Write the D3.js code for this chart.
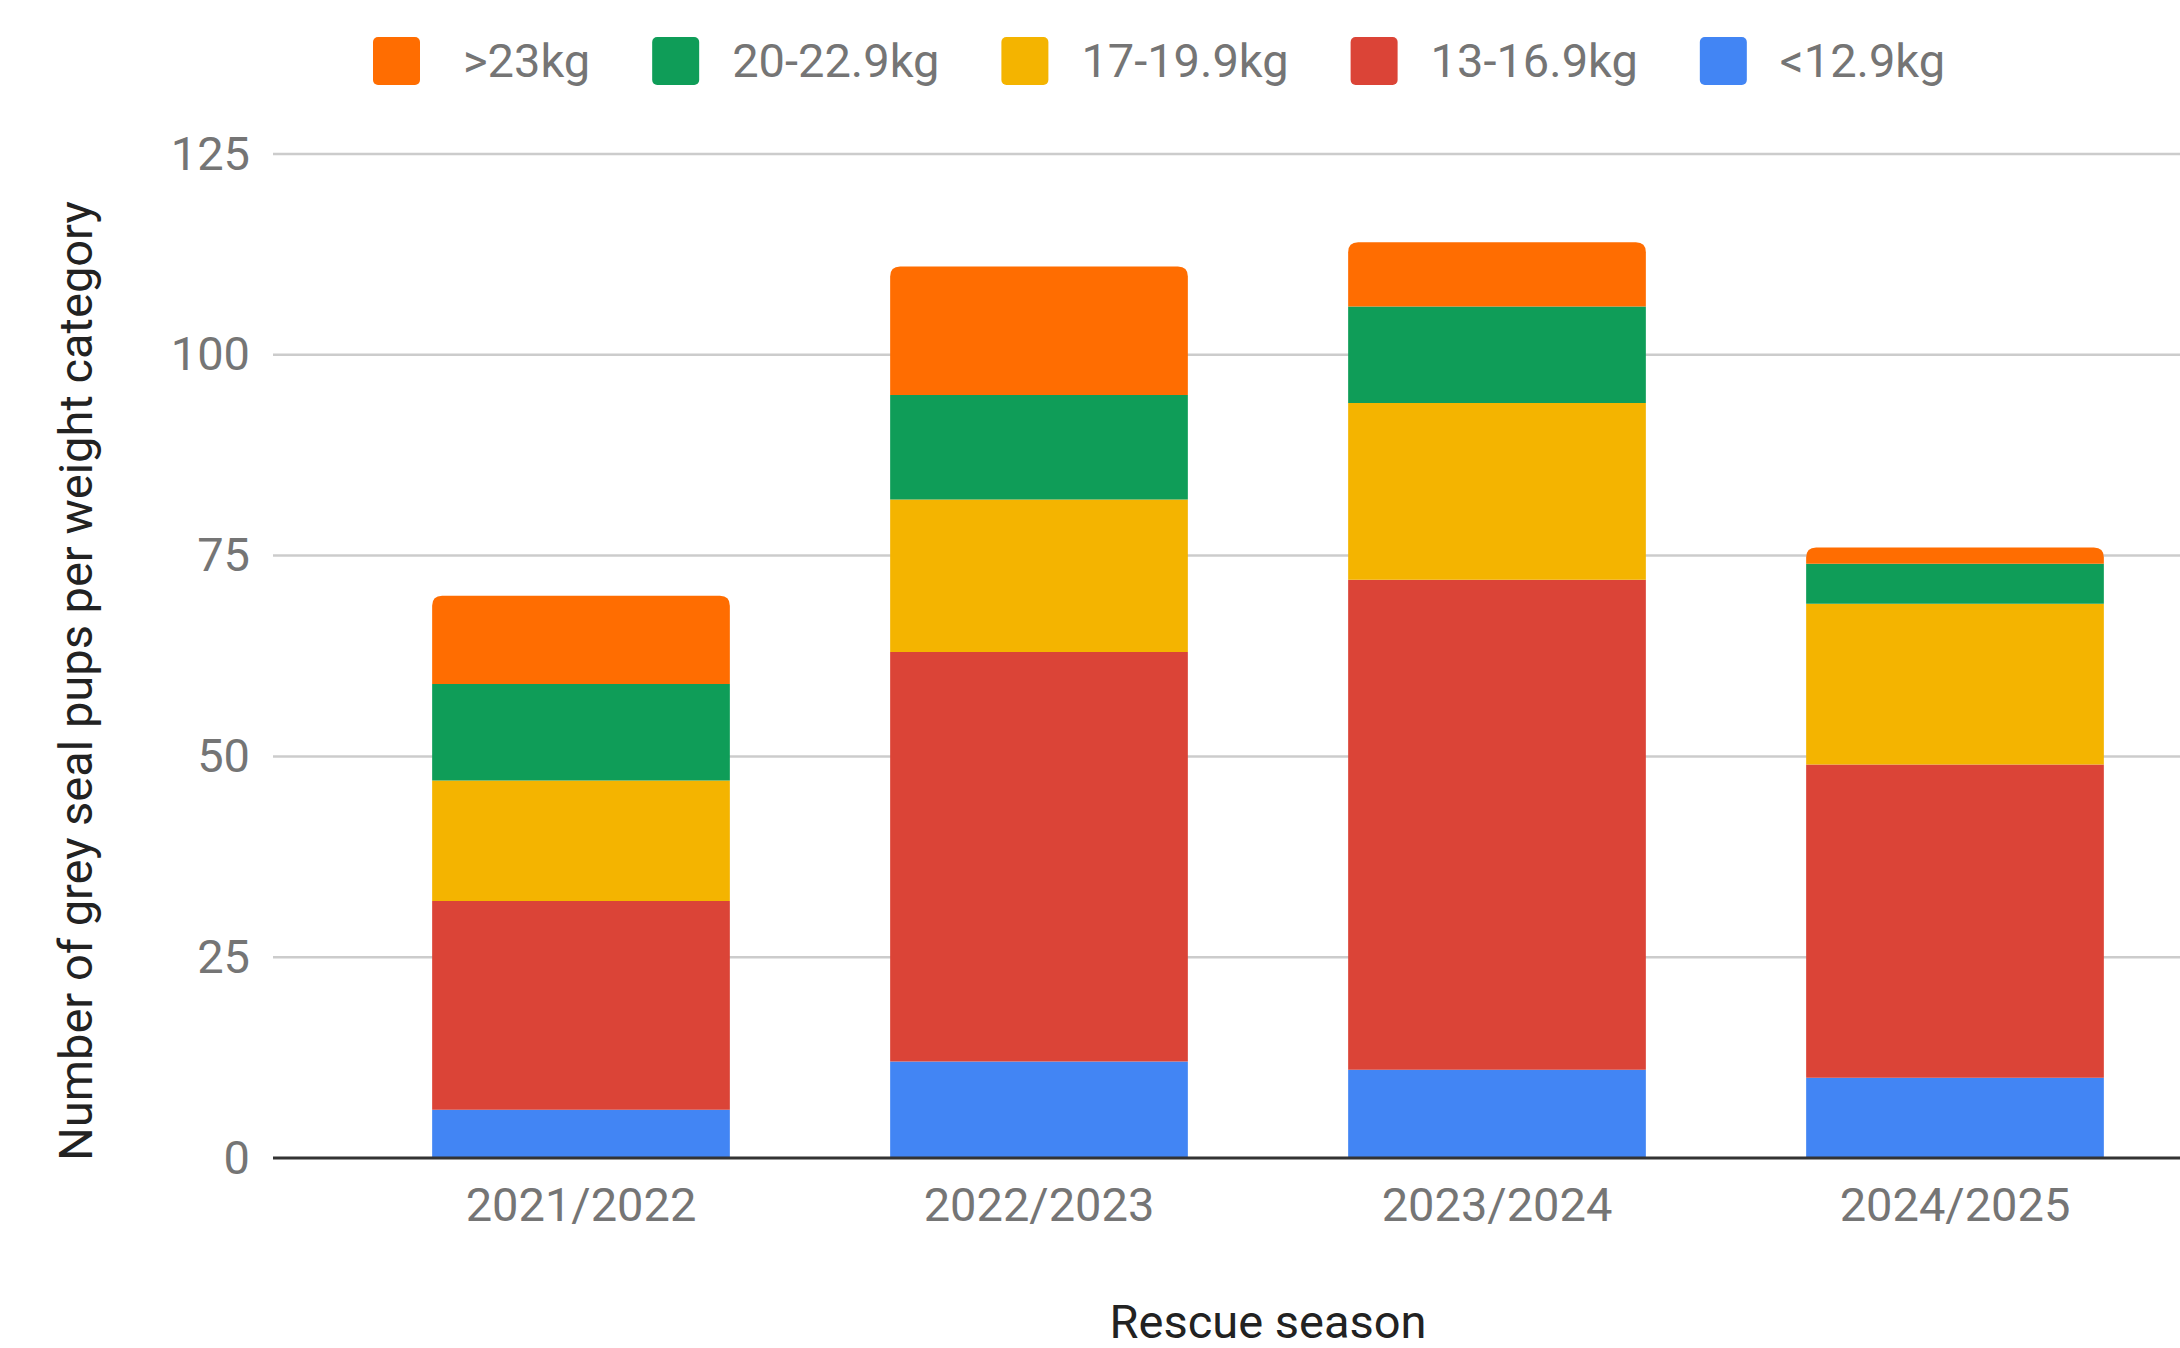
<!DOCTYPE html>
<html>
<head>
<meta charset="utf-8">
<script src="https://cdn.jsdelivr.net/npm/d3@7"></script>
<style>
  html, body { margin: 0; padding: 0; background: #fff; }
  svg { display: block; font-family: Roboto, "Noto Sans", Arial, sans-serif; }
</style>
</head>
<body>
<svg id="chart" width="2180" height="1348"></svg>
<script>
// Rescue seasons and grey seal pup counts per admission weight category
const seasons = ["2021/2022", "2022/2023", "2023/2024", "2024/2025"];
const under13kg = [6, 12, 11, 10];
const kg13to16 = [26, 51, 61, 39];
const kg17to19 = [15, 19, 22, 20];
const kg20to22 = [12, 13, 12, 5];
const over23kg = [11, 16, 8, 2];

const seriesNames = ["<12.9kg", "13-16.9kg", "17-19.9kg", "20-22.9kg", ">23kg"];
const seriesValues = [under13kg, kg13to16, kg17to19, kg20to22, over23kg];
const seriesColors = ["#4285f4", "#db4437", "#f4b400", "#0f9d58", "#ff6d01"];
const yTicks = [0, 25, 50, 75, 100, 125];

const svg = d3.select("#chart");
const W = 2180, H = 1348;
const FS = 47;
const gridLeft = 273;
const plot = { left: 352, right: 2184, top: 154, bottom: 1158 };

const rows = seasons.map((s, i) => {
  const r = { season: s };
  seriesNames.forEach((n, k) => { r[n] = seriesValues[k][i]; });
  return r;
});
const stacked = d3.stack().keys(seriesNames)(rows);

const x = d3.scaleBand().domain(seasons)
  .range([plot.left, plot.right]).paddingInner(0.35).paddingOuter(0.175);
const y = d3.scaleLinear().domain([0, 125]).range([plot.bottom, plot.top]);

// Horizontal gridlines
svg.append("g").selectAll("line").data(yTicks.filter(d => d > 0)).join("line")
  .attr("x1", gridLeft).attr("x2", W)
  .attr("y1", d => y(d)).attr("y2", d => y(d))
  .attr("stroke", "#cccccc").attr("stroke-width", 2.5);

// Y tick labels
const yAxis = d3.axisLeft(y).tickValues(yTicks).tickSize(0).tickPadding(0);
const gy = svg.append("g").attr("transform", `translate(250,0)`).call(yAxis);
gy.select(".domain").remove();
gy.selectAll("text")
  .attr("font-size", FS).attr("fill", "#757575")
  .attr("font-family", "Roboto, sans-serif");

// Stacked bars; the top segment of each column gets rounded corners
const rad = 10;
function roundedTop(x0, y0, w, h, r) {
  r = Math.min(r, h, w / 2);
  return `M${x0},${y0 + h} L${x0},${y0 + r} Q${x0},${y0} ${x0 + r},${y0} ` +
         `L${x0 + w - r},${y0} Q${x0 + w},${y0} ${x0 + w},${y0 + r} L${x0 + w},${y0 + h} Z`;
}
const topIndex = stacked.length - 1;
stacked.forEach((layer, k) => {
  svg.append("g").selectAll("path").data(layer).join("path")
    .attr("fill", seriesColors[k])
    .attr("d", d => {
      const x0 = x(d.data.season), w = x.bandwidth();
      const y0 = y(d[1]), h = y(d[0]) - y(d[1]);
      if (k === topIndex) return roundedTop(x0, y0, w, h, rad);
      return `M${x0},${y0}h${w}v${h}h${-w}Z`;
    });
});

// Baseline
svg.append("line")
  .attr("x1", gridLeft).attr("x2", W)
  .attr("y1", y(0)).attr("y2", y(0))
  .attr("stroke", "#333333").attr("stroke-width", 3);

// X tick labels
const xAxis = d3.axisBottom(x).tickSize(0).tickPadding(0);
const gx = svg.append("g").attr("transform", `translate(0,1205)`).call(xAxis);
gx.select(".domain").remove();
gx.selectAll("text")
  .attr("font-size", FS).attr("fill", "#757575").attr("dy", "0.35em")
  .attr("font-family", "Roboto, sans-serif");

// Axis titles
svg.append("text")
  .attr("x", (plot.left + plot.right) / 2).attr("y", 1338)
  .attr("text-anchor", "middle").attr("font-size", FS).attr("fill", "#222222")
  .text("Rescue season");
svg.append("text")
  .attr("transform", `translate(92,681) rotate(-90)`)
  .attr("text-anchor", "middle").attr("font-size", FS).attr("fill", "#222222")
  .text("Number of grey seal pups per weight category");

// Legend (top row, heaviest category first)
const legend = svg.append("g");
let lx = 373;
for (let k = seriesNames.length - 1; k >= 0; k--) {
  legend.append("rect")
    .attr("x", lx).attr("y", 37).attr("width", 47).attr("height", 48)
    .attr("rx", 5).attr("fill", seriesColors[k]);
  const tx = lx + (k === seriesNames.length - 1 ? 90 : 80);
  const t = legend.append("text")
    .attr("x", tx).attr("y", 77)
    .attr("font-size", FS).attr("fill", "#757575")
    .text(seriesNames[k]);
  lx = tx + t.node().getComputedTextLength() + 62;
}
</script>
</body>
</html>
